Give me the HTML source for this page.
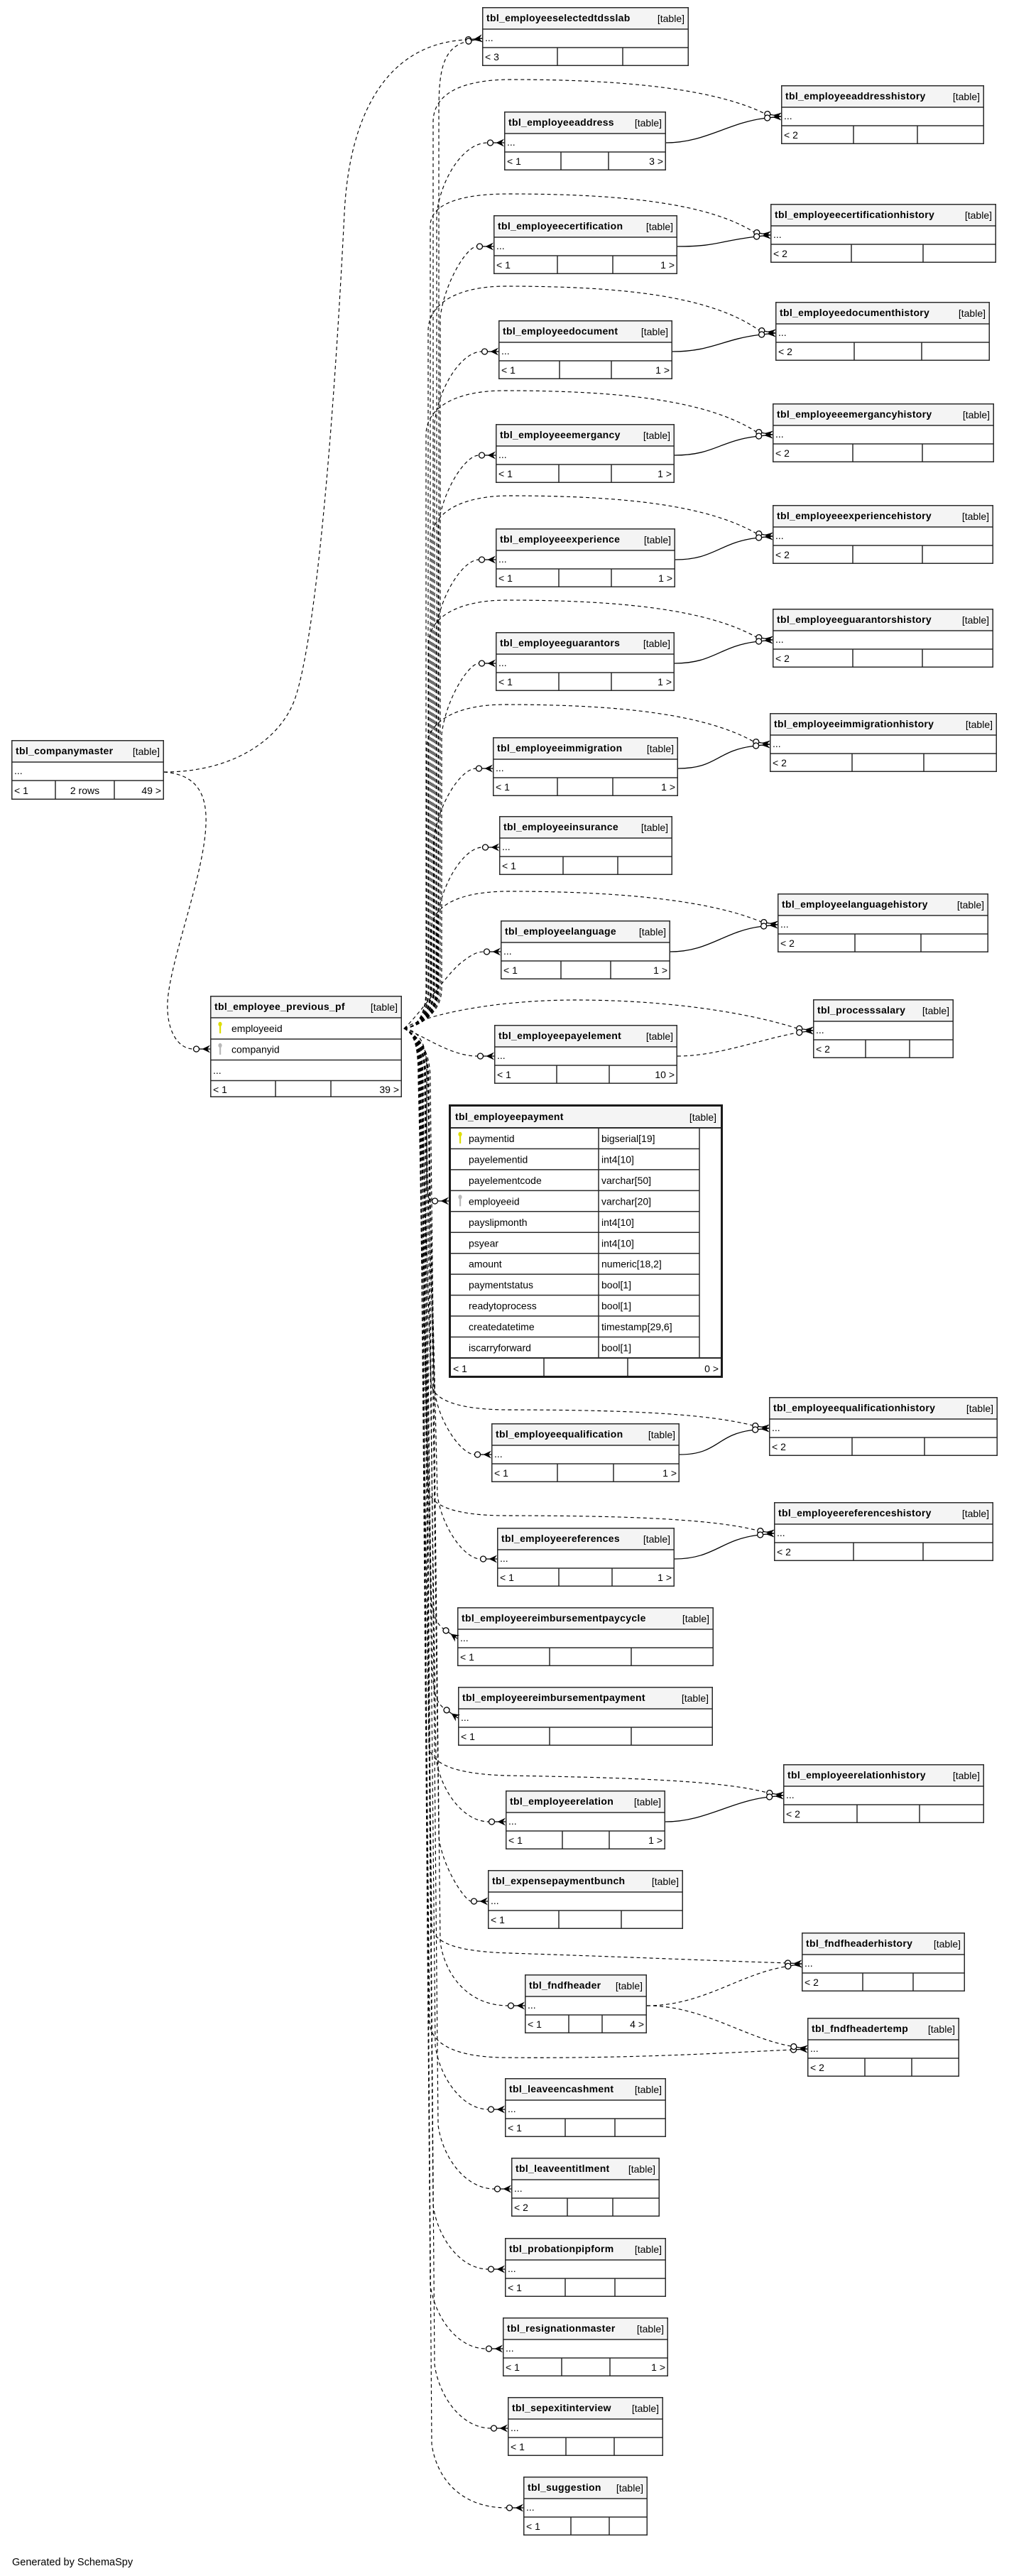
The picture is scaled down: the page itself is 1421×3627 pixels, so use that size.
<!DOCTYPE html>
<html><head><meta charset="utf-8"><style>
html,body{margin:0;padding:0;background:#fff;}
svg{display:block;}
text{font-family:"Liberation Sans",Arial,sans-serif;font-size:14px;fill:#000;}
.tn{font-weight:bold;letter-spacing:.3px;}
.ln{stroke:#2b2b2b;stroke-width:1.5;fill:none;}
.bx{stroke:#2b2b2b;stroke-width:1.5;fill:none;}
.hd{fill:#f4f4f4;}
.e{fill:none;stroke:#000;stroke-width:1.15;stroke-dasharray:5,4;}
.s{fill:none;stroke:#000;stroke-width:1.3;}
</style></head><body>
<svg xmlns="http://www.w3.org/2000/svg" xmlns:xlink="http://www.w3.org/1999/xlink" width="1421" height="3627" viewBox="0 0 1421 3627">
<defs>
<g id="ah">
<line x1="-15.5" y1="0" x2="-11.5" y2="0" stroke="#000" stroke-width="1.3"/>
<circle cx="-19.5" cy="0" r="4" fill="#fff" stroke="#000" stroke-width="1.3"/>
<path d="M0,-5.5 L-11.5,0 L0,5.5 L-4,0 Z" fill="#000"/>
<line x1="-11.5" y1="0" x2="0" y2="0" stroke="#000" stroke-width="1.3"/>
</g>
</defs>
<rect width="1421" height="3627" fill="#fff"/>

<!-- EDGES -->
<path class="e" d="M231,1087C330,1087 395,1040 415,985C445,900 470,600 485,300C492,160 545,62 655.6,56"/>
<path class="e" d="M231,1087C270,1090 292,1110 290,1160C288,1230 240,1350 236,1410C234,1450 250,1477 272.5,1477"/>
<path class="e" d="M569,1448C588,1446 618,1428 618,1392L618,160C618,110 620,68 656,58.9"/>
<path class="e" d="M569,1448C588,1446 615,1428 615,1392L615,301C621,251 653,201 686.5,201"/>
<path class="e" d="M569,1448C588,1446 610,1428 610,1392L610,172C610,132 650,112 720,112C890,112 1010,127 1076.9,159.9"/>
<path class="s" d="M938,201C993,201 1025,173 1076.6,166.5"/>
<path class="e" d="M569,1448C588,1446 620,1428 620,1392L620,447C626,397 658,347 671.5,347"/>
<path class="e" d="M569,1448C588,1446 606,1428 606,1392L606,318C606,288 646,273 716,273C886,273 1000,288 1061.9,326.9"/>
<path class="s" d="M954,347C1009,347 1010,340 1061.6,333.5"/>
<path class="e" d="M569,1448C588,1446 612,1428 612,1392L612,595C618,545 650,495 678.5,495"/>
<path class="e" d="M569,1448C588,1446 603,1428 603,1392L603,466C603,428 643,403 713,403C883,403 1002,418 1068.9,464.9"/>
<path class="s" d="M947,495C1002,495 1017,478 1068.6,471.5"/>
<path class="e" d="M569,1448C588,1446 617,1428 617,1392L617,741C623,691 655,641 674.5,641"/>
<path class="e" d="M569,1448C588,1446 600,1428 600,1392L600,612C600,575 640,550 710,550C880,550 998,565 1064.9,607.9"/>
<path class="s" d="M950,641C1005,641 1013,621 1064.6,614.5"/>
<path class="e" d="M569,1448C588,1446 614,1428 614,1392L614,888C620,838 652,788 674.5,788"/>
<path class="e" d="M569,1448C588,1446 608,1428 608,1392L608,759C608,723 648,698 718,698C888,698 998,713 1064.9,750.9"/>
<path class="s" d="M951,788C1006,788 1013,764 1064.6,757.5"/>
<path class="e" d="M569,1448C588,1446 622,1428 622,1392L622,1034C628,984 660,934 674.5,934"/>
<path class="e" d="M569,1448C588,1446 604,1428 604,1392L604,905C604,870 644,845 714,845C884,845 998,860 1064.9,896.9"/>
<path class="s" d="M950,934C1005,934 1013,910 1064.6,903.5"/>
<path class="e" d="M569,1448C588,1446 611,1428 611,1392L611,1182C617,1132 649,1082 670.5,1082"/>
<path class="e" d="M569,1448C588,1446 601,1428 601,1392L601,1053C601,1017 641,992 711,992C881,992 994,1007 1060.9,1043.9"/>
<path class="s" d="M955,1082C1010,1082 1009,1057 1060.6,1050.5"/>
<path class="e" d="M569,1448C588,1446 616,1428 616,1392L616,1293C622,1243 654,1193 679.5,1193"/>
<path class="e" d="M569,1448C590,1430 630,1370 650,1355C662,1346 670,1340 681.5,1340"/>
<path class="e" d="M569,1448C588,1446 607,1428 607,1392L607,1311C607,1275 647,1255 717,1255C887,1255 1005,1270 1071.9,1297.9"/>
<path class="s" d="M944,1340C999,1340 1020,1311 1071.6,1304.5"/>
<path class="e" d="M569,1448C600,1428 700,1408 810,1408C950,1408 1060,1428 1121.7,1447.7"/>
<path class="e" d="M954,1487C1010,1487 1065,1465 1121.7,1454.3"/>
<path class="e" d="M569,1448C600,1460 635,1487 672.5,1487"/>
<path class="e" d="M569,1448C588,1450 601,1468 601,1504L601,1655C601,1680 603,1691 608.5,1691"/>
<path class="e" d="M569,1448C584,1456 598,1472 598,1520L612,1958C618,2003 650,2048 668.5,2048"/>
<path class="e" d="M569,1448C584,1456 593,1472 593,1520L607,1945C607,1972 647,1985 717,1985C900,1985 1000,1992 1059.9,2006.9"/>
<path class="s" d="M957,2048C1012,2048 1008,2020 1059.6,2013.5"/>
<path class="e" d="M569,1448C584,1456 602,1472 602,1520L616,2105C622,2150 654,2195 676.5,2195"/>
<path class="e" d="M569,1448C584,1456 589,1472 589,1520L603,2094C603,2121 643,2134 713,2134C900,2134 1008,2140 1066.9,2154.9"/>
<path class="s" d="M950,2195C1005,2195 1015,2168 1066.6,2161.5"/>
<path class="e" d="M569,1448C584,1456 592,1472 592,1520L606,2225C606,2262 611,2284 624.8,2293.5"/>
<path class="e" d="M569,1448C584,1456 595,1472 595,1520L609,2340C609,2378 613,2397 625.8,2405.5"/>
<path class="e" d="M569,1448C584,1456 600,1472 600,1520L614,2475C620,2520 652,2565 688.5,2565"/>
<path class="e" d="M569,1448C584,1456 590,1472 590,1520L604,2455C604,2485 644,2498 714,2500C900,2503 1020,2508 1079.9,2523.9"/>
<path class="s" d="M937,2565C992,2565 1028,2537 1079.6,2530.5"/>
<path class="e" d="M569,1448C584,1456 604,1472 604,1520L618,2587C624,2632 656,2677 663.5,2677"/>
<path class="e" d="M569,1448C584,1456 594,1472 594,1520L608,2710C608,2737 648,2748 718,2750C900,2756 1040,2762 1105.5,2763.8"/>
<path class="e" d="M569,1448C584,1456 606,1472 606,1520L620,2734C626,2779 658,2824 715.5,2824"/>
<path class="e" d="M569,1448C584,1456 591,1472 591,1520L605,2845C605,2875 635,2895 705,2897C900,2899 1040,2889 1113.5,2886.2"/>
<path class="e" d="M911,2824C990,2824 1040,2780 1105.9,2769.1"/>
<path class="e" d="M911,2824C990,2824 1050,2870 1113.9,2880.9"/>
<path class="e" d="M569,1448C584,1456 599,1472 599,1520L613,2880C619,2925 651,2970 687.5,2970"/>
<path class="e" d="M569,1448C584,1456 603,1472 603,1520L617,2992C623,3037 655,3082 696.5,3082"/>
<path class="e" d="M569,1448C584,1456 596,1472 596,1520L610,3105C616,3150 648,3195 687.5,3195"/>
<path class="e" d="M569,1448C584,1456 592,1472 592,1520L606,3217C612,3262 644,3307 684.5,3307"/>
<path class="e" d="M569,1448C584,1456 598,1472 598,1520L612,3329C618,3374 650,3419 691.5,3419"/>
<path class="e" d="M569,1448C584,1456 594,1472 594,1520L608,3441C614,3486 646,3531 713.5,3531"/>

<!-- TABLES -->
<g transform="translate(679,10)"><rect class="hd" width="291" height="31"/><path class="ln" d="M0,31H291M0,57H291M106,57V83M198,57V83"/><rect class="bx" x=".75" y=".75" width="289.5" height="81.5"/><text x="6" y="20" class="tn">tbl_employeeselectedtdsslab</text><text x="285" y="21" text-anchor="end">[table]</text><text x="4" y="48">...</text><text x="4" y="75">&lt; 3</text></g>

<g transform="translate(1100,120)"><rect class="hd" width="286" height="31"/><path class="ln" d="M0,31H286M0,57H286M102,57V83M192,57V83"/><rect class="bx" x=".75" y=".75" width="284.5" height="81.5"/><text x="6" y="20" class="tn">tbl_employeeaddresshistory</text><text x="280" y="21" text-anchor="end">[table]</text><text x="4" y="48">...</text><text x="4" y="75">&lt; 2</text></g>

<g transform="translate(710,157)"><rect class="hd" width="228" height="31"/><path class="ln" d="M0,31H228M0,57H228M80,57V83M147,57V83"/><rect class="bx" x=".75" y=".75" width="226.5" height="81.5"/><text x="6" y="20" class="tn">tbl_employeeaddress</text><text x="222" y="21" text-anchor="end">[table]</text><text x="4" y="48">...</text><text x="4" y="75">&lt; 1</text><text x="224" y="75" text-anchor="end">3 &gt;</text></g>

<g transform="translate(695,303)"><rect class="hd" width="259" height="31"/><path class="ln" d="M0,31H259M0,57H259M90,57V83M168,57V83"/><rect class="bx" x=".75" y=".75" width="257.5" height="81.5"/><text x="6" y="20" class="tn">tbl_employeecertification</text><text x="253" y="21" text-anchor="end">[table]</text><text x="4" y="48">...</text><text x="4" y="75">&lt; 1</text><text x="255" y="75" text-anchor="end">1 &gt;</text></g>

<g transform="translate(1085,287)"><rect class="hd" width="318" height="31"/><path class="ln" d="M0,31H318M0,57H318M114,57V83M215,57V83"/><rect class="bx" x=".75" y=".75" width="316.5" height="81.5"/><text x="6" y="20" class="tn">tbl_employeecertificationhistory</text><text x="312" y="21" text-anchor="end">[table]</text><text x="4" y="48">...</text><text x="4" y="75">&lt; 2</text></g>

<g transform="translate(702,451)"><rect class="hd" width="245" height="31"/><path class="ln" d="M0,31H245M0,57H245M86,57V83M159,57V83"/><rect class="bx" x=".75" y=".75" width="243.5" height="81.5"/><text x="6" y="20" class="tn">tbl_employeedocument</text><text x="239" y="21" text-anchor="end">[table]</text><text x="4" y="48">...</text><text x="4" y="75">&lt; 1</text><text x="241" y="75" text-anchor="end">1 &gt;</text></g>

<g transform="translate(1092,425)"><rect class="hd" width="302" height="31"/><path class="ln" d="M0,31H302M0,57H302M111,57V83M206,57V83"/><rect class="bx" x=".75" y=".75" width="300.5" height="81.5"/><text x="6" y="20" class="tn">tbl_employeedocumenthistory</text><text x="296" y="21" text-anchor="end">[table]</text><text x="4" y="48">...</text><text x="4" y="75">&lt; 2</text></g>

<g transform="translate(698,597)"><rect class="hd" width="252" height="31"/><path class="ln" d="M0,31H252M0,57H252M89,57V83M163,57V83"/><rect class="bx" x=".75" y=".75" width="250.5" height="81.5"/><text x="6" y="20" class="tn">tbl_employeeemergancy</text><text x="246" y="21" text-anchor="end">[table]</text><text x="4" y="48">...</text><text x="4" y="75">&lt; 1</text><text x="248" y="75" text-anchor="end">1 &gt;</text></g>

<g transform="translate(1088,568)"><rect class="hd" width="312" height="31"/><path class="ln" d="M0,31H312M0,57H312M113,57V83M211,57V83"/><rect class="bx" x=".75" y=".75" width="310.5" height="81.5"/><text x="6" y="20" class="tn">tbl_employeeemergancyhistory</text><text x="306" y="21" text-anchor="end">[table]</text><text x="4" y="48">...</text><text x="4" y="75">&lt; 2</text></g>

<g transform="translate(698,744)"><rect class="hd" width="253" height="31"/><path class="ln" d="M0,31H253M0,57H253M89,57V83M163,57V83"/><rect class="bx" x=".75" y=".75" width="251.5" height="81.5"/><text x="6" y="20" class="tn">tbl_employeeexperience</text><text x="247" y="21" text-anchor="end">[table]</text><text x="4" y="48">...</text><text x="4" y="75">&lt; 1</text><text x="249" y="75" text-anchor="end">1 &gt;</text></g>

<g transform="translate(1088,711)"><rect class="hd" width="311" height="31"/><path class="ln" d="M0,31H311M0,57H311M113,57V83M211,57V83"/><rect class="bx" x=".75" y=".75" width="309.5" height="81.5"/><text x="6" y="20" class="tn">tbl_employeeexperiencehistory</text><text x="305" y="21" text-anchor="end">[table]</text><text x="4" y="48">...</text><text x="4" y="75">&lt; 2</text></g>

<g transform="translate(698,890)"><rect class="hd" width="252" height="31"/><path class="ln" d="M0,31H252M0,57H252M89,57V83M163,57V83"/><rect class="bx" x=".75" y=".75" width="250.5" height="81.5"/><text x="6" y="20" class="tn">tbl_employeeguarantors</text><text x="246" y="21" text-anchor="end">[table]</text><text x="4" y="48">...</text><text x="4" y="75">&lt; 1</text><text x="248" y="75" text-anchor="end">1 &gt;</text></g>

<g transform="translate(1088,857)"><rect class="hd" width="311" height="31"/><path class="ln" d="M0,31H311M0,57H311M113,57V83M211,57V83"/><rect class="bx" x=".75" y=".75" width="309.5" height="81.5"/><text x="6" y="20" class="tn">tbl_employeeguarantorshistory</text><text x="305" y="21" text-anchor="end">[table]</text><text x="4" y="48">...</text><text x="4" y="75">&lt; 2</text></g>

<g transform="translate(694,1038)"><rect class="hd" width="261" height="31"/><path class="ln" d="M0,31H261M0,57H261M91,57V83M169,57V83"/><rect class="bx" x=".75" y=".75" width="259.5" height="81.5"/><text x="6" y="20" class="tn">tbl_employeeimmigration</text><text x="255" y="21" text-anchor="end">[table]</text><text x="4" y="48">...</text><text x="4" y="75">&lt; 1</text><text x="257" y="75" text-anchor="end">1 &gt;</text></g>

<g transform="translate(1084,1004)"><rect class="hd" width="320" height="31"/><path class="ln" d="M0,31H320M0,57H320M116,57V83M217,57V83"/><rect class="bx" x=".75" y=".75" width="318.5" height="81.5"/><text x="6" y="20" class="tn">tbl_employeeimmigrationhistory</text><text x="314" y="21" text-anchor="end">[table]</text><text x="4" y="48">...</text><text x="4" y="75">&lt; 2</text></g>

<g transform="translate(703,1149)"><rect class="hd" width="244" height="31"/><path class="ln" d="M0,31H244M0,57H244M90,57V83M167,57V83"/><rect class="bx" x=".75" y=".75" width="242.5" height="81.5"/><text x="6" y="20" class="tn">tbl_employeeinsurance</text><text x="238" y="21" text-anchor="end">[table]</text><text x="4" y="48">...</text><text x="4" y="75">&lt; 1</text></g>

<g transform="translate(705,1296)"><rect class="hd" width="239" height="31"/><path class="ln" d="M0,31H239M0,57H239M85,57V83M155,57V83"/><rect class="bx" x=".75" y=".75" width="237.5" height="81.5"/><text x="6" y="20" class="tn">tbl_employeelanguage</text><text x="233" y="21" text-anchor="end">[table]</text><text x="4" y="48">...</text><text x="4" y="75">&lt; 1</text><text x="235" y="75" text-anchor="end">1 &gt;</text></g>

<g transform="translate(1095,1258)"><rect class="hd" width="297" height="31"/><path class="ln" d="M0,31H297M0,57H297M109,57V83M202,57V83"/><rect class="bx" x=".75" y=".75" width="295.5" height="81.5"/><text x="6" y="20" class="tn">tbl_employeelanguagehistory</text><text x="291" y="21" text-anchor="end">[table]</text><text x="4" y="48">...</text><text x="4" y="75">&lt; 2</text></g>

<g transform="translate(1145,1407)"><rect class="hd" width="198" height="31"/><path class="ln" d="M0,31H198M0,57H198M74,57V83M136,57V83"/><rect class="bx" x=".75" y=".75" width="196.5" height="81.5"/><text x="6" y="20" class="tn">tbl_processsalary</text><text x="192" y="21" text-anchor="end">[table]</text><text x="4" y="48">...</text><text x="4" y="75">&lt; 2</text></g>

<g transform="translate(696,1443)"><rect class="hd" width="258" height="31"/><path class="ln" d="M0,31H258M0,57H258M88,57V83M162,57V83"/><rect class="bx" x=".75" y=".75" width="256.5" height="81.5"/><text x="6" y="20" class="tn">tbl_employeepayelement</text><text x="252" y="21" text-anchor="end">[table]</text><text x="4" y="48">...</text><text x="4" y="75">&lt; 1</text><text x="254" y="75" text-anchor="end">10 &gt;</text></g>

<g transform="translate(16,1042)"><rect class="hd" width="215" height="31"/><path class="ln" d="M0,31H215M0,57H215M62,57V84M145,57V84"/><rect class="bx" x=".75" y=".75" width="213.5" height="82.5"/><text x="6" y="20" class="tn">tbl_companymaster</text><text x="209" y="21" text-anchor="end">[table]</text><text x="4" y="48">...</text><text x="4" y="76">&lt; 1</text><text x="103.5" y="76" text-anchor="middle">2 rows</text><text x="211" y="76" text-anchor="end">49 &gt;</text></g>

<!-- previous pf -->
<g transform="translate(296,1402)"><rect class="hd" width="270" height="31"/><path class="ln" d="M0,31H270M0,61H270M0,90.5H270M0,119.5H270M92,119.5V143M170,119.5V143"/><rect class="bx" x=".75" y=".75" width="268.5" height="141.5"/><text x="6" y="20" class="tn">tbl_employee_previous_pf</text><text x="264" y="21" text-anchor="end">[table]</text>
<ellipse cx="14" cy="40" rx="2.6" ry="3.2" fill="#dede00"/><rect x="13" y="42" width="2.2" height="11" fill="#dede00"/>
<text x="30" y="51">employeeid</text>
<ellipse cx="14" cy="70" rx="2.6" ry="3.2" fill="#b8b8b8"/><rect x="13" y="72" width="2.2" height="11" fill="#b8b8b8"/>
<text x="30" y="80.5">companyid</text>
<text x="4" y="110">...</text><text x="4" y="137">&lt; 1</text><text x="266" y="137" text-anchor="end">39 &gt;</text></g>

<!-- payment -->
<g transform="translate(632,1555)"><rect class="hd" width="386" height="33"/>
<path class="ln" d="M0,62.45H353M0,91.9H353M0,121.35H353M0,150.8H353M0,180.25H353M0,209.7H353M0,239.15H353M0,268.6H353M0,298.05H353M0,327.5H353M211,33V357M353,33V357M134,357V385M252,357V385"/>
<path d="M0,33H386M0,357H386" stroke="#2b2b2b" stroke-width="2" fill="none"/>
<rect x="1.5" y="1.5" width="383" height="382" fill="none" stroke="#1a1a1a" stroke-width="3"/>
<text x="9" y="22" class="tn">tbl_employeepayment</text><text x="377" y="23" text-anchor="end">[table]</text>
<ellipse cx="16" cy="42" rx="2.6" ry="3.2" fill="#dede00"/><rect x="15" y="44" width="2.2" height="11" fill="#dede00"/>
<ellipse cx="16" cy="130.4" rx="2.6" ry="3.2" fill="#b8b8b8"/><rect x="15" y="132.4" width="2.2" height="11" fill="#b8b8b8"/>
<text x="28" y="53">paymentid</text><text x="215" y="53">bigserial[19]</text>
<text x="28" y="82.45">payelementid</text><text x="215" y="82.45">int4[10]</text>
<text x="28" y="111.9">payelementcode</text><text x="215" y="111.9">varchar[50]</text>
<text x="28" y="141.35">employeeid</text><text x="215" y="141.35">varchar[20]</text>
<text x="28" y="170.8">payslipmonth</text><text x="215" y="170.8">int4[10]</text>
<text x="28" y="200.25">psyear</text><text x="215" y="200.25">int4[10]</text>
<text x="28" y="229.7">amount</text><text x="215" y="229.7">numeric[18,2]</text>
<text x="28" y="259.15">paymentstatus</text><text x="215" y="259.15">bool[1]</text>
<text x="28" y="288.6">readytoprocess</text><text x="215" y="288.6">bool[1]</text>
<text x="28" y="318.05">createdatetime</text><text x="215" y="318.05">timestamp[29,6]</text>
<text x="28" y="347.5">iscarryforward</text><text x="215" y="347.5">bool[1]</text>
<text x="6" y="377">&lt; 1</text><text x="380" y="377" text-anchor="end">0 &gt;</text></g>

<g transform="translate(692,2004)"><rect class="hd" width="265" height="31"/><path class="ln" d="M0,31H265M0,57H265M93,57V83M172,57V83"/><rect class="bx" x=".75" y=".75" width="263.5" height="81.5"/><text x="6" y="20" class="tn">tbl_employeequalification</text><text x="259" y="21" text-anchor="end">[table]</text><text x="4" y="48">...</text><text x="4" y="75">&lt; 1</text><text x="261" y="75" text-anchor="end">1 &gt;</text></g>

<g transform="translate(1083,1967)"><rect class="hd" width="322" height="31"/><path class="ln" d="M0,31H322M0,57H322M117,57V83M219,57V83"/><rect class="bx" x=".75" y=".75" width="320.5" height="81.5"/><text x="6" y="20" class="tn">tbl_employeequalificationhistory</text><text x="316" y="21" text-anchor="end">[table]</text><text x="4" y="48">...</text><text x="4" y="75">&lt; 2</text></g>

<g transform="translate(700,2151)"><rect class="hd" width="250" height="31"/><path class="ln" d="M0,31H250M0,57H250M87,57V83M162,57V83"/><rect class="bx" x=".75" y=".75" width="248.5" height="81.5"/><text x="6" y="20" class="tn">tbl_employeereferences</text><text x="244" y="21" text-anchor="end">[table]</text><text x="4" y="48">...</text><text x="4" y="75">&lt; 1</text><text x="246" y="75" text-anchor="end">1 &gt;</text></g>

<g transform="translate(1090,2115)"><rect class="hd" width="309" height="31"/><path class="ln" d="M0,31H309M0,57H309M112,57V83M210,57V83"/><rect class="bx" x=".75" y=".75" width="307.5" height="81.5"/><text x="6" y="20" class="tn">tbl_employeereferenceshistory</text><text x="303" y="21" text-anchor="end">[table]</text><text x="4" y="48">...</text><text x="4" y="75">&lt; 2</text></g>

<g transform="translate(644,2263)"><rect class="hd" width="361" height="31"/><path class="ln" d="M0,31H361M0,57H361M130,57V83M245,57V83"/><rect class="bx" x=".75" y=".75" width="359.5" height="81.5"/><text x="6" y="20" class="tn">tbl_employeereimbursementpaycycle</text><text x="355" y="21" text-anchor="end">[table]</text><text x="4" y="48">...</text><text x="4" y="75">&lt; 1</text></g>

<g transform="translate(645,2375)"><rect class="hd" width="359" height="31"/><path class="ln" d="M0,31H359M0,57H359M129,57V83M244,57V83"/><rect class="bx" x=".75" y=".75" width="357.5" height="81.5"/><text x="6" y="20" class="tn">tbl_employeereimbursementpayment</text><text x="353" y="21" text-anchor="end">[table]</text><text x="4" y="48">...</text><text x="4" y="75">&lt; 1</text></g>

<g transform="translate(712,2521)"><rect class="hd" width="225" height="31"/><path class="ln" d="M0,31H225M0,57H225M80,57V83M146,57V83"/><rect class="bx" x=".75" y=".75" width="223.5" height="81.5"/><text x="6" y="20" class="tn">tbl_employeerelation</text><text x="219" y="21" text-anchor="end">[table]</text><text x="4" y="48">...</text><text x="4" y="75">&lt; 1</text><text x="221" y="75" text-anchor="end">1 &gt;</text></g>

<g transform="translate(1103,2484)"><rect class="hd" width="283" height="31"/><path class="ln" d="M0,31H283M0,57H283M104,57V83M192,57V83"/><rect class="bx" x=".75" y=".75" width="281.5" height="81.5"/><text x="6" y="20" class="tn">tbl_employeerelationhistory</text><text x="277" y="21" text-anchor="end">[table]</text><text x="4" y="48">...</text><text x="4" y="75">&lt; 2</text></g>

<g transform="translate(687,2633)"><rect class="hd" width="275" height="31"/><path class="ln" d="M0,31H275M0,57H275M100,57V83M188,57V83"/><rect class="bx" x=".75" y=".75" width="273.5" height="81.5"/><text x="6" y="20" class="tn">tbl_expensepaymentbunch</text><text x="269" y="21" text-anchor="end">[table]</text><text x="4" y="48">...</text><text x="4" y="75">&lt; 1</text></g>

<g transform="translate(1129,2721)"><rect class="hd" width="230" height="31"/><path class="ln" d="M0,31H230M0,57H230M86,57V83M157,57V83"/><rect class="bx" x=".75" y=".75" width="228.5" height="81.5"/><text x="6" y="20" class="tn">tbl_fndfheaderhistory</text><text x="224" y="21" text-anchor="end">[table]</text><text x="4" y="48">...</text><text x="4" y="75">&lt; 2</text></g>

<g transform="translate(739,2780)"><rect class="hd" width="172" height="31"/><path class="ln" d="M0,31H172M0,57H172M62,57V83M109,57V83"/><rect class="bx" x=".75" y=".75" width="170.5" height="81.5"/><text x="6" y="20" class="tn">tbl_fndfheader</text><text x="166" y="21" text-anchor="end">[table]</text><text x="4" y="48">...</text><text x="4" y="75">&lt; 1</text><text x="168" y="75" text-anchor="end">4 &gt;</text></g>

<g transform="translate(1137,2841)"><rect class="hd" width="214" height="31"/><path class="ln" d="M0,31H214M0,57H214M81,57V83M147,57V83"/><rect class="bx" x=".75" y=".75" width="212.5" height="81.5"/><text x="6" y="20" class="tn">tbl_fndfheadertemp</text><text x="208" y="21" text-anchor="end">[table]</text><text x="4" y="48">...</text><text x="4" y="75">&lt; 2</text></g>

<g transform="translate(711,2926)"><rect class="hd" width="227" height="31"/><path class="ln" d="M0,31H227M0,57H227M85,57V83M155,57V83"/><rect class="bx" x=".75" y=".75" width="225.5" height="81.5"/><text x="6" y="20" class="tn">tbl_leaveencashment</text><text x="221" y="21" text-anchor="end">[table]</text><text x="4" y="48">...</text><text x="4" y="75">&lt; 1</text></g>

<g transform="translate(720,3038)"><rect class="hd" width="209" height="31"/><path class="ln" d="M0,31H209M0,57H209M79,57V83M143,57V83"/><rect class="bx" x=".75" y=".75" width="207.5" height="81.5"/><text x="6" y="20" class="tn">tbl_leaveentitlment</text><text x="203" y="21" text-anchor="end">[table]</text><text x="4" y="48">...</text><text x="4" y="75">&lt; 2</text></g>

<g transform="translate(711,3151)"><rect class="hd" width="227" height="31"/><path class="ln" d="M0,31H227M0,57H227M85,57V83M155,57V83"/><rect class="bx" x=".75" y=".75" width="225.5" height="81.5"/><text x="6" y="20" class="tn">tbl_probationpipform</text><text x="221" y="21" text-anchor="end">[table]</text><text x="4" y="48">...</text><text x="4" y="75">&lt; 1</text></g>

<g transform="translate(708,3263)"><rect class="hd" width="233" height="31"/><path class="ln" d="M0,31H233M0,57H233M83,57V83M151,57V83"/><rect class="bx" x=".75" y=".75" width="231.5" height="81.5"/><text x="6" y="20" class="tn">tbl_resignationmaster</text><text x="227" y="21" text-anchor="end">[table]</text><text x="4" y="48">...</text><text x="4" y="75">&lt; 1</text><text x="229" y="75" text-anchor="end">1 &gt;</text></g>

<g transform="translate(715,3375)"><rect class="hd" width="219" height="31"/><path class="ln" d="M0,31H219M0,57H219M82,57V83M150,57V83"/><rect class="bx" x=".75" y=".75" width="217.5" height="81.5"/><text x="6" y="20" class="tn">tbl_sepexitinterview</text><text x="213" y="21" text-anchor="end">[table]</text><text x="4" y="48">...</text><text x="4" y="75">&lt; 1</text></g>

<g transform="translate(737,3487)"><rect class="hd" width="175" height="31"/><path class="ln" d="M0,31H175M0,57H175M67,57V83M121,57V83"/><rect class="bx" x=".75" y=".75" width="173.5" height="81.5"/><text x="6" y="20" class="tn">tbl_suggestion</text><text x="169" y="21" text-anchor="end">[table]</text><text x="4" y="48">...</text><text x="4" y="75">&lt; 1</text></g>

<!-- ARROWHEADS -->
<use href="#ah" xlink:href="#ah" transform="translate(679,54) rotate(-5)"/>
<use href="#ah" xlink:href="#ah" transform="translate(679,54) rotate(-12)"/>
<use href="#ah" xlink:href="#ah" transform="translate(710,201)"/>
<use href="#ah" xlink:href="#ah" transform="translate(1100,164) rotate(10)"/>
<use href="#ah" xlink:href="#ah" transform="translate(1100,164) rotate(-6)"/>
<use href="#ah" xlink:href="#ah" transform="translate(695,347)"/>
<use href="#ah" xlink:href="#ah" transform="translate(1085,331) rotate(10)"/>
<use href="#ah" xlink:href="#ah" transform="translate(1085,331) rotate(-6)"/>
<use href="#ah" xlink:href="#ah" transform="translate(702,495)"/>
<use href="#ah" xlink:href="#ah" transform="translate(1092,469) rotate(10)"/>
<use href="#ah" xlink:href="#ah" transform="translate(1092,469) rotate(-6)"/>
<use href="#ah" xlink:href="#ah" transform="translate(698,641)"/>
<use href="#ah" xlink:href="#ah" transform="translate(1088,612) rotate(10)"/>
<use href="#ah" xlink:href="#ah" transform="translate(1088,612) rotate(-6)"/>
<use href="#ah" xlink:href="#ah" transform="translate(698,788)"/>
<use href="#ah" xlink:href="#ah" transform="translate(1088,755) rotate(10)"/>
<use href="#ah" xlink:href="#ah" transform="translate(1088,755) rotate(-6)"/>
<use href="#ah" xlink:href="#ah" transform="translate(698,934)"/>
<use href="#ah" xlink:href="#ah" transform="translate(1088,901) rotate(10)"/>
<use href="#ah" xlink:href="#ah" transform="translate(1088,901) rotate(-6)"/>
<use href="#ah" xlink:href="#ah" transform="translate(694,1082)"/>
<use href="#ah" xlink:href="#ah" transform="translate(1084,1048) rotate(10)"/>
<use href="#ah" xlink:href="#ah" transform="translate(1084,1048) rotate(-6)"/>
<use href="#ah" xlink:href="#ah" transform="translate(703,1193)"/>
<use href="#ah" xlink:href="#ah" transform="translate(705,1340)"/>
<use href="#ah" xlink:href="#ah" transform="translate(1095,1302) rotate(10)"/>
<use href="#ah" xlink:href="#ah" transform="translate(1095,1302) rotate(-6)"/>
<use href="#ah" xlink:href="#ah" transform="translate(1145,1451) rotate(8)"/>
<use href="#ah" xlink:href="#ah" transform="translate(1145,1451) rotate(-8)"/>
<use href="#ah" xlink:href="#ah" transform="translate(696,1487)"/>
<use href="#ah" xlink:href="#ah" transform="translate(632,1691)"/>
<use href="#ah" xlink:href="#ah" transform="translate(296,1477)"/>
<use href="#ah" xlink:href="#ah" transform="translate(692,2048)"/>
<use href="#ah" xlink:href="#ah" transform="translate(1083,2011) rotate(10)"/>
<use href="#ah" xlink:href="#ah" transform="translate(1083,2011) rotate(-6)"/>
<use href="#ah" xlink:href="#ah" transform="translate(700,2195)"/>
<use href="#ah" xlink:href="#ah" transform="translate(1090,2159) rotate(10)"/>
<use href="#ah" xlink:href="#ah" transform="translate(1090,2159) rotate(-6)"/>
<use href="#ah" xlink:href="#ah" transform="translate(644,2307) rotate(35)"/>
<use href="#ah" xlink:href="#ah" transform="translate(645,2419) rotate(35)"/>
<use href="#ah" xlink:href="#ah" transform="translate(712,2565)"/>
<use href="#ah" xlink:href="#ah" transform="translate(1103,2528) rotate(10)"/>
<use href="#ah" xlink:href="#ah" transform="translate(1103,2528) rotate(-6)"/>
<use href="#ah" xlink:href="#ah" transform="translate(687,2677)"/>
<use href="#ah" xlink:href="#ah" transform="translate(1129,2765) rotate(3)"/>
<use href="#ah" xlink:href="#ah" transform="translate(1129,2765) rotate(-10)"/>
<use href="#ah" xlink:href="#ah" transform="translate(739,2824)"/>
<use href="#ah" xlink:href="#ah" transform="translate(1137,2885) rotate(-3)"/>
<use href="#ah" xlink:href="#ah" transform="translate(1137,2885) rotate(10)"/>
<use href="#ah" xlink:href="#ah" transform="translate(711,2970)"/>
<use href="#ah" xlink:href="#ah" transform="translate(720,3082)"/>
<use href="#ah" xlink:href="#ah" transform="translate(711,3195)"/>
<use href="#ah" xlink:href="#ah" transform="translate(708,3307)"/>
<use href="#ah" xlink:href="#ah" transform="translate(715,3419)"/>
<use href="#ah" xlink:href="#ah" transform="translate(737,3531)"/>

<text x="17" y="3612" style="font-size:14.5px">Generated by SchemaSpy</text>
</svg>
</body></html>
